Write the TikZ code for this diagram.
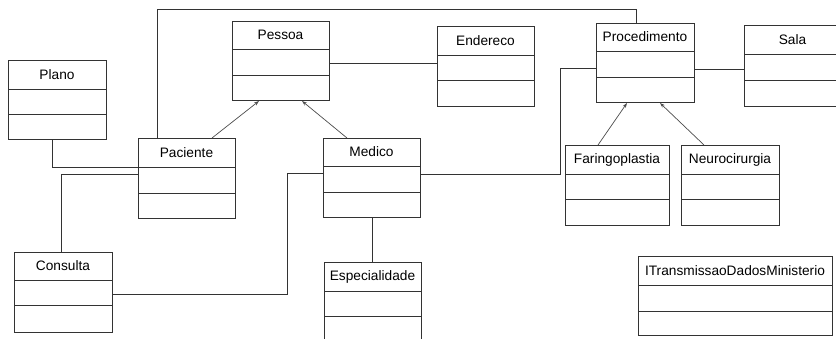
\documentclass[tikz,border=0pt]{standalone}
\usepackage{fontspec}
\setmainfont{Liberation Sans}
\usetikzlibrary{arrows.meta}
\tikzset{
  classbox/.style={draw=black!80, line width=1pt, inner sep=0pt, anchor=north west, fill=none},
  divider/.style={draw=black!80, line width=1pt},
  classtitle/.style={font=\fontsize{13.7}{16}\selectfont, text=black, inner sep=0pt},
  assoc/.style={draw=black!80, line width=1pt},
  gen/.style={draw=black!70, line width=0.7pt, -{Stealth[length=5pt,width=3.5pt]}}
}
% #1 name, #2 x1, #3 y1, #4 x2, #5 y2, #6 divider1, #7 divider2, #8 title
\newcommand{\umlclassbox}[8]{%
  \node[classbox, minimum width={(#4-#2)*1pt}, minimum height={(#5-#3)*1pt}] (#1) at (#2,#3) {};
  \draw[divider] (#2,#6) -- (#4,#6);
  \draw[divider] (#2,#7) -- (#4,#7);
  \node[classtitle] (#1-title) at ({(#2+#4)/2},{(#3+#6)/2}) {#8};
}
\begin{document}
\begin{tikzpicture}[x=1pt,y=-1pt]
\useasboundingbox[fill=white] (0,0) rectangle (836,338);
\clip (0,0) rectangle (836,338);

\umlclassbox{pessoa}{232}{21}{329}{100}{49}{75}{Pessoa}
\umlclassbox{plano}{8}{60}{106}{139}{89}{114}{Plano}
\umlclassbox{paciente}{138}{138}{235}{218}{167}{193}{Paciente}
\umlclassbox{medico}{323}{138}{420}{217}{166}{192}{Medico}
\umlclassbox{endereco}{437}{26}{534}{106}{55}{80}{Endereco}
\umlclassbox{procedimento}{596}{23}{694}{102}{51}{77}{Procedimento}
\umlclassbox{sala}{744}{25}{841}{106}{54}{80}{Sala}
\umlclassbox{faringo}{565}{145}{669}{225}{174}{199}{Faringoplastia}
\umlclassbox{neuro}{681}{145}{779}{225}{174}{199}{Neurocirurgia}
\umlclassbox{consulta}{14}{252}{112}{332}{280}{305}{Consulta}
\umlclassbox{especialidade}{324}{262}{421}{345}{291}{316}{Especialidade}
\umlclassbox{itrans}{638}{256}{832}{335}{285}{311}{ITransmissaoDadosMinisterio}

% junction coordinates
\coordinate (k1) at (157,9);
\coordinate (k2) at (636,9);
\coordinate (k3) at (287,173);
\coordinate (k4) at (560,68);

% associations
\draw[assoc] ([xshift=19pt]paciente.north west) -- (k1) -- (k2) -- (k2 |- procedimento.north);
\draw[assoc] ([yshift=-42pt]pessoa.north east) -- ([yshift=-37pt]endereco.north west);
\draw[assoc] ([xshift=44pt]plano.south west) |- ([yshift=-29pt]paciente.north west);
\draw[assoc] ([yshift=-36pt]paciente.north west) -| ([xshift=47pt]consulta.north west);
\draw[assoc] ([yshift=-42pt]consulta.north east) -| (k3) -- ([yshift=-35pt]medico.north west);
\draw[assoc] ([yshift=-36pt]medico.north east) -| (k4) -- ([yshift=-45pt]procedimento.north west);
\draw[assoc] ([yshift=-46pt]procedimento.north east) -- ([yshift=-44pt]sala.north west);
\draw[assoc] (medico.south) -- (medico.south |- especialidade.north);

% generalizations
\draw[gen] ([xshift=74pt]paciente.north west) -- ([xshift=27pt]pessoa.south west);
\draw[gen] ([xshift=24pt]medico.north west) -- ([xshift=70pt]pessoa.south west);
\draw[gen] ([xshift=33pt]faringo.north west) -- ([xshift=31pt]procedimento.south west);
\draw[gen] ([xshift=23pt]neuro.north west) -- ([xshift=64pt]procedimento.south west);
\end{tikzpicture}
\end{document}
